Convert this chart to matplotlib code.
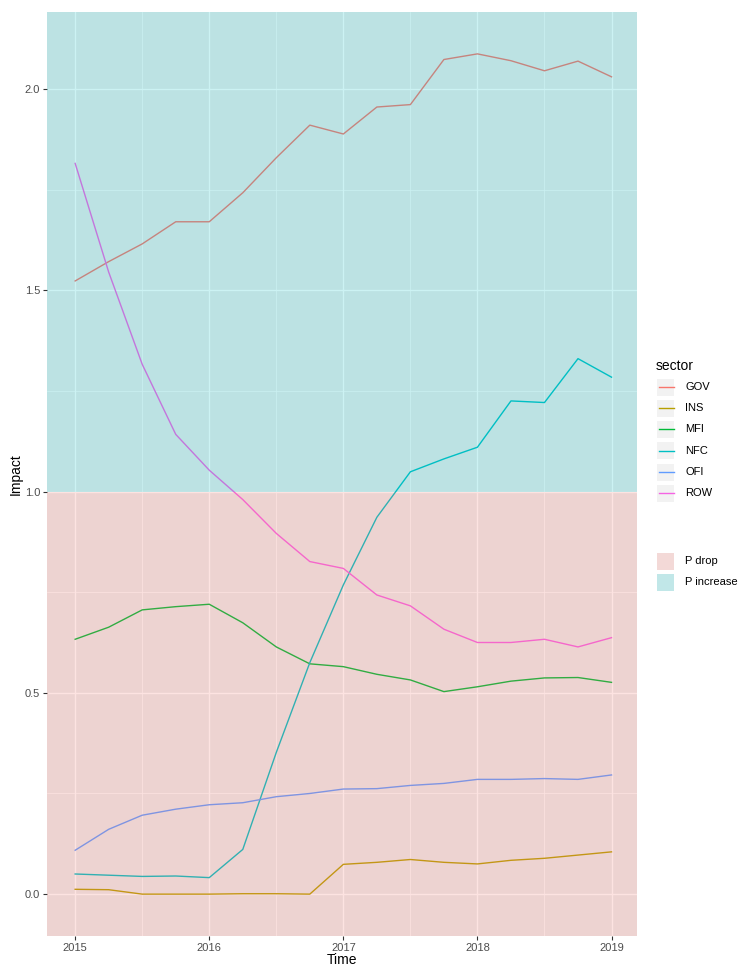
#!/usr/bin/env python3
"""Impact por setor ao longo do tempo, com faixas P drop / P increase (estilo ggplot)."""
import numpy as np
import matplotlib
matplotlib.use("Agg")
import matplotlib.pyplot as plt
from matplotlib.patches import Rectangle
from matplotlib.lines import Line2D

plt.rcParams['font.family'] = ['Liberation Sans', 'DejaVu Sans']

# Dados trimestrais 2015 - 2019
time = [2015.0, 2015.25, 2015.5, 2015.75, 2016.0, 2016.25, 2016.5, 2016.75,
        2017.0, 2017.25, 2017.5, 2017.75, 2018.0, 2018.25, 2018.5, 2018.75, 2019.0]

gov = [1.523, 1.571, 1.615, 1.670, 1.670, 1.742, 1.829, 1.910, 1.888,
       1.955, 1.961, 2.073, 2.087, 2.070, 2.045, 2.069, 2.030]
ins = [0.012, 0.011, 0.000, 0.000, 0.000, 0.001, 0.001, 0.000, 0.074,
       0.079, 0.086, 0.079, 0.075, 0.084, 0.089, 0.097, 0.105]
mfi = [0.633, 0.663, 0.706, 0.714, 0.720, 0.674, 0.614, 0.572, 0.565,
       0.546, 0.532, 0.503, 0.515, 0.529, 0.537, 0.538, 0.526]
nfc = [0.050, 0.047, 0.044, 0.045, 0.041, 0.111, 0.352, 0.575, 0.768,
       0.936, 1.049, 1.081, 1.110, 1.225, 1.221, 1.330, 1.284]
ofi = [0.109, 0.161, 0.196, 0.211, 0.222, 0.227, 0.242, 0.250, 0.261,
       0.262, 0.270, 0.275, 0.285, 0.285, 0.287, 0.285, 0.296]
row = [1.815, 1.545, 1.316, 1.142, 1.053, 0.980, 0.896, 0.826, 0.809,
       0.743, 0.716, 0.658, 0.625, 0.625, 0.633, 0.614, 0.637]

sectors = ["GOV", "INS", "MFI", "NFC", "OFI", "ROW"]
series = [gov, ins, mfi, nfc, ofi, row]
colors = ["#F8766D", "#B79F00", "#00BA38", "#00BFC4", "#619CFF", "#F564E3"]

# Faixas de fundo
band_labels = ["P drop", "P increase"]
band_colors = ["#F8766D", "#00BFC4"]
threshold = 1.0
ylim = (-0.104, 2.191)
xlim = (2014.79, 2019.19)

W, H = 739, 967
fig = plt.figure(figsize=(W / 100, H / 100), dpi=100)
ax = fig.add_axes([47 / W, (H - 936) / H, 590 / W, 924 / H])
ax.set_facecolor("#EBEBEB")

# Linhas
for vals, col in zip(series, colors):
    ax.plot(time, vals, color=col, lw=1.0, zorder=3)

# Retângulos com alpha por cima das linhas (como geom_rect depois de geom_line)
ax.axhspan(ylim[0], threshold, color=band_colors[0], alpha=0.2, lw=0, zorder=4)
ax.axhspan(threshold, ylim[1], color=band_colors[1], alpha=0.2, lw=0, zorder=4)

ax.set_xlim(*xlim)
ax.set_ylim(*ylim)

ax.set_xticks([2015, 2016, 2017, 2018, 2019])
ax.set_xticks([2015.5, 2016.5, 2017.5, 2018.5], minor=True)
ax.set_yticks([0.0, 0.5, 1.0, 1.5, 2.0])
ax.set_yticks([0.25, 0.75, 1.25, 1.75], minor=True)
ax.set_yticklabels(["0.0", "0.5", "1.0", "1.5", "2.0"])

ax.grid(which="major", color="white", lw=1.0, zorder=1)
ax.grid(which="minor", color="white", lw=0.5, zorder=1)
ax.set_axisbelow(True)
for s in ax.spines.values():
    s.set_visible(False)

ax.tick_params(which="major", length=3, width=0.8, color="#333333",
               labelsize=8, labelcolor="#4D4D4D", pad=2)
ax.tick_params(which="minor", length=0)

# Títulos dos eixos
fig.text(342 / W, 1 - 960 / H, "Time", fontsize=10, ha="center", va="center")
fig.text(16 / W, 1 - 474 / H, "Impact", fontsize=10, ha="center", va="center",
         rotation=90)

# Legenda manual (estilo ggplot)
def fx(px):
    return px / W

def fy(py):
    return 1 - py / H

fig.text(fx(656), fy(366), "sector", fontsize=10, va="center", ha="left")
key_w, key_h = 17, 17
row_y = [387, 408, 429.5, 451, 472, 493]
for lab, col, yy in zip(sectors, colors, row_y):
    fig.add_artist(Rectangle((fx(657), fy(yy + key_h / 2)), key_w / W, key_h / H,
                             transform=fig.transFigure, facecolor="#F2F2F2",
                             edgecolor="none"))
    fig.add_artist(Line2D([fx(659), fx(674)], [fy(yy), fy(yy)],
                          transform=fig.transFigure, color=col, lw=1.0))
    fig.text(fx(685), fy(yy), lab, fontsize=8, va="center", ha="left")

fill_y = [561, 582]
for lab, col, yy in zip(band_labels, band_colors, fill_y):
    fig.add_artist(Rectangle((fx(657), fy(yy + key_h / 2)), key_w / W, key_h / H,
                             transform=fig.transFigure, facecolor="#F2F2F2",
                             edgecolor="none"))
    fig.add_artist(Rectangle((fx(657), fy(yy + key_h / 2)), key_w / W, key_h / H,
                             transform=fig.transFigure, facecolor=col, alpha=0.2,
                             edgecolor="none"))
    fig.text(fx(685), fy(yy), lab, fontsize=8, va="center", ha="left")

fig.savefig("out.png", dpi=100)
